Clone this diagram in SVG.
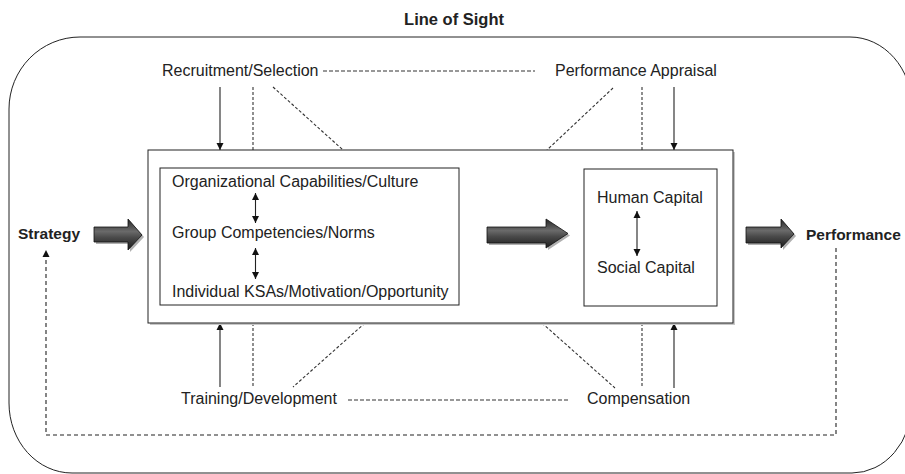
<svg xmlns="http://www.w3.org/2000/svg" width="905" height="474" viewBox="0 0 905 474">
<style>
text{font-family:"Liberation Sans",Arial,sans-serif;font-size:16px;fill:#222}
.b{font-weight:bold;font-size:15.5px}
.box{fill:#fff;stroke:#222;stroke-width:1}
.solid{stroke:#222;stroke-width:1.1;fill:none}
.dash{stroke:#333;stroke-width:1.1;stroke-dasharray:3 2;fill:none}
.hdash{stroke:#777;stroke-width:1.3;stroke-dasharray:4 2;fill:none}
.fb{stroke:#222;stroke-width:1.1;stroke-dasharray:4 3;fill:none}
.blk{fill:url(#g);stroke:#111;stroke-width:0.8}
.shd{fill:#b0b0b0}
</style>
<defs>
<marker id="ah" viewBox="0 0 10 10" refX="10" refY="5" markerWidth="7" markerHeight="9" markerUnits="userSpaceOnUse" orient="auto-start-reverse">
<path d="M0,0 L10,5 L0,10 Z" fill="#111"/>
</marker>
<linearGradient id="g" x1="0" y1="0" x2="0" y2="1">
<stop offset="0" stop-color="#262626"/>
<stop offset="0.4" stop-color="#6a6a6a"/>
<stop offset="0.6" stop-color="#4a4a4a"/>
<stop offset="1" stop-color="#1c1c1c"/>
</linearGradient>
</defs>

<g id="frame">
<path d="M80 37 H850 A62 70 0 0 1 912 107 V403 A60 70 0 0 1 852 473 H72 A63 70 0 0 1 9 403 V109 A71 72 0 0 1 80 37 Z" fill="none" stroke="#222" stroke-width="1"/>
<text class="b" x="454" y="25" text-anchor="middle" style="font-size:16.5px">Line of Sight</text>
</g>

<g id="connectors">
<line class="hdash" x1="323" y1="71" x2="535" y2="71"/>
<line class="hdash" x1="348" y1="400" x2="570" y2="400"/>
<line class="solid" x1="220" y1="87" x2="220" y2="150" marker-end="url(#ah)"/>
<line class="dash" x1="253" y1="87" x2="253" y2="150"/>
<line class="dash" x1="273" y1="87" x2="343" y2="150"/>
<line class="dash" x1="613" y1="88" x2="547" y2="150"/>
<line class="dash" x1="642" y1="87" x2="642" y2="150"/>
<line class="solid" x1="674" y1="87" x2="674" y2="150" marker-end="url(#ah)"/>
<line class="solid" x1="220" y1="387" x2="220" y2="323" marker-end="url(#ah)"/>
<line class="dash" x1="253" y1="323" x2="253" y2="387"/>
<line class="dash" x1="365" y1="323" x2="293" y2="387"/>
<line class="dash" x1="542" y1="323" x2="615" y2="388"/>
<line class="dash" x1="642" y1="323" x2="642" y2="387"/>
<line class="solid" x1="674" y1="388" x2="674" y2="323" marker-end="url(#ah)"/>
<path class="fb" d="M836 248 V435 H46 V250" marker-end="url(#ah)"/>
</g>

<g id="recruitment">
<text x="162" y="76">Recruitment/Selection</text>
</g>
<g id="appraisal">
<text x="555" y="76">Performance Appraisal</text>
</g>
<g id="training">
<text x="181" y="404">Training/Development</text>
</g>
<g id="compensation">
<text x="587" y="404">Compensation</text>
</g>

<g id="main-box">
<rect x="150" y="152" width="585" height="173" fill="#c8c8c8"/>
<rect class="box" x="148" y="150" width="585" height="173" stroke="#444" stroke-width="1.3"/>
</g>

<g id="individual-box">
<rect class="box" x="160" y="168" width="299" height="137" stroke="#444" stroke-width="1.3"/>
<text x="172" y="187">Organizational Capabilities/Culture</text>
<text x="172" y="238">Group Competencies/Norms</text>
<text x="172" y="297">Individual KSAs/Motivation/Opportunity</text>
<line class="solid" x1="255.5" y1="193" x2="255.5" y2="223" marker-start="url(#ah)" marker-end="url(#ah)"/>
<line class="solid" x1="255.5" y1="248" x2="255.5" y2="279" marker-start="url(#ah)" marker-end="url(#ah)"/>
</g>

<g id="capital-box">
<rect class="box" x="584" y="169" width="133" height="137"/>
<text x="597" y="203">Human Capital</text>
<text x="597" y="273">Social Capital</text>
<line class="solid" x1="637" y1="211" x2="637" y2="256" marker-start="url(#ah)" marker-end="url(#ah)"/>
</g>

<g id="strategy">
<text class="b" x="18" y="239">Strategy</text>
</g>

<g id="performance">
<text class="b" x="806" y="240">Performance</text>
</g>

<g id="arrow-1">
<path class="shd" d="M96 229 H130 V221 L144 237 L130 252 V244 H96 Z"/>
<path class="blk" d="M94 227 H128 V219 L142 235 L128 250 V242 H94 Z"/>
</g>
<g id="arrow-2">
<path class="shd" d="M489 229 H548 V221 L570 235.5 L548 250 V245 H489 Z"/>
<path class="blk" d="M487 227 H546 V219 L568 233.5 L546 248 V243 H487 Z"/>
</g>
<g id="arrow-3">
<path class="shd" d="M748 229 H783 V221 L796 236 L783 250 V245 H748 Z"/>
<path class="blk" d="M746 227 H781 V219 L794 234 L781 248 V243 H746 Z"/>
</g>
</svg>
